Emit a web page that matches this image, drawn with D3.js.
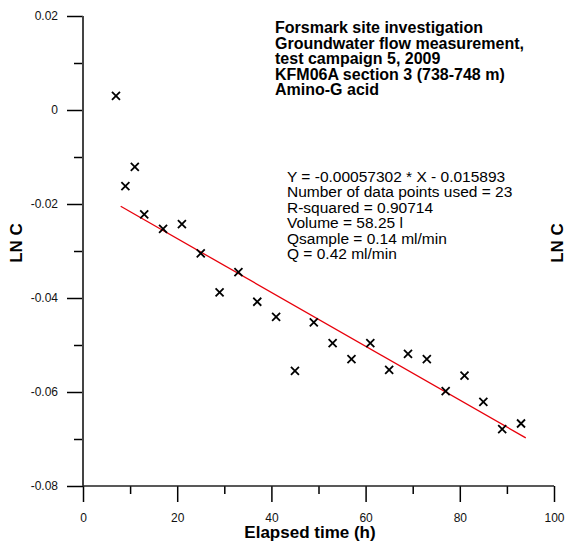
<!DOCTYPE html>
<html>
<head>
<meta charset="utf-8">
<script src="https://cdn.jsdelivr.net/npm/d3@7"></script>
<style>
  body { margin: 0; background: #fff; }
  text { font-family: 'Liberation Sans', Arial, sans-serif; }
</style>
</head>
<body>
<script>
var width = 566
var height = 549

// elapsed time (h) and LN C
var timeH = [7, 9, 11, 13, 17, 21, 25, 29, 33, 37, 41, 45, 49, 53, 57, 61, 65, 69, 73, 77, 81, 85, 89, 93]
var lnC = [0.0030, -0.0162, -0.0121, -0.0222, -0.0253, -0.0243, -0.0305, -0.0388, -0.0345, -0.0408, -0.0440, -0.0555,
  -0.0452, -0.0496, -0.0530, -0.0496, -0.0553, -0.0519, -0.0530, -0.0598, -0.0565, -0.0621, -0.0679, -0.0667]

// regression line
var slope = -0.00057302
var intercept = -0.015893
var fitRange = [8, 94]

var xTicks = [0, 20, 40, 60, 80, 100]
var yTicks = [0.02, 0, -0.02, -0.04, -0.06, -0.08]
var yTickLabels = ['0.02', '0', '-0.02', '-0.04', '-0.06', '-0.08']

var titleLines = ['Forsmark site investigation', 'Groundwater flow measurement,', 'test campaign 5, 2009',
  'KFM06A section 3 (738-748 m)', 'Amino-G acid']
var statLines = ['Y = -0.00057302 * X - 0.015893', 'Number of data points used = 23', 'R-squared = 0.90714',
  'Volume = 58.25 l', 'Qsample = 0.14 ml/min', 'Q = 0.42 ml/min']

var svg = d3.select('body').append('svg')
  .attr('width', width)
  .attr('height', height)

var x = d3.scaleLinear().domain([0, 100]).range([83, 554])
var y = d3.scaleLinear().domain([-0.08, 0.02]).range([486, 16])

// y axis
var yAxis = svg.append('g').attr('transform', 'translate(' + x(0) + ',0)')
  .call(d3.axisLeft(y).tickValues(yTicks).tickSize(16).tickPadding(9)
    .tickFormat(function (d, i) { return yTickLabels[i] }))
yAxis.select('.domain').remove()
yAxis.selectAll('.tick line').attr('stroke', '#000').attr('stroke-width', 1.5)
yAxis.selectAll('.tick text').style('font-size', '12px').attr('fill', '#111')

svg.append('g').attr('transform', 'translate(' + x(0) + ',0)')
  .call(d3.axisLeft(y).tickValues([0.01, -0.01, -0.03, -0.05, -0.07]).tickSize(9).tickFormat(''))
  .call(function (g) { g.select('.domain').remove() })
  .selectAll('.tick line').attr('stroke', '#000').attr('stroke-width', 1.5)

// x axis
var xAxis = svg.append('g').attr('transform', 'translate(0,' + y(-0.08) + ')')
  .call(d3.axisBottom(x).tickValues(xTicks).tickSize(16).tickPadding(11))
xAxis.select('.domain').remove()
xAxis.selectAll('.tick line').attr('stroke', '#000').attr('stroke-width', 1.5)
xAxis.selectAll('.tick text').style('font-size', '12px').attr('fill', '#111')

svg.append('g').attr('transform', 'translate(0,' + y(-0.08) + ')')
  .call(d3.axisBottom(x).tickValues([10, 30, 50, 70, 90]).tickSize(8).tickFormat(''))
  .call(function (g) { g.select('.domain').remove() })
  .selectAll('.tick line').attr('stroke', '#000').attr('stroke-width', 1.5)

// axis lines
svg.append('line')
  .attr('x1', x(0)).attr('x2', x(0)).attr('y1', y(0.02)).attr('y2', y(-0.08))
  .attr('stroke', '#444').attr('stroke-width', 2)
svg.append('line')
  .attr('x1', x(0)).attr('x2', x(100)).attr('y1', y(-0.08)).attr('y2', y(-0.08))
  .attr('stroke', '#222').attr('stroke-width', 1.5)

// axis titles
svg.append('text')
  .attr('transform', 'translate(22,243) rotate(-90)')
  .attr('text-anchor', 'middle')
  .style('font-size', '17px').style('font-weight', 'bold')
  .text('LN C')
svg.append('text')
  .attr('transform', 'translate(563,243) rotate(-90)')
  .attr('text-anchor', 'middle')
  .style('font-size', '17px').style('font-weight', 'bold')
  .text('LN C')
svg.append('text')
  .attr('x', 310).attr('y', 538)
  .attr('text-anchor', 'middle')
  .style('font-size', '17px').style('font-weight', 'bold')
  .text('Elapsed time (h)')

// regression line
svg.append('line')
  .attr('x1', x(fitRange[0])).attr('y1', y(slope * fitRange[0] + intercept))
  .attr('x2', x(fitRange[1])).attr('y2', y(slope * fitRange[1] + intercept))
  .attr('stroke', '#e8000b').attr('stroke-width', 1.3)

// data points as crosses
svg.selectAll('.pt')
  .data(timeH.map(function (t, i) { return [t, lnC[i]] }))
  .enter().append('path')
  .attr('class', 'pt')
  .attr('transform', function (d) { return 'translate(' + x(d[0]) + ',' + y(d[1]) + ')' })
  .attr('d', 'M-4,-4L4,4M-4,4L4,-4')
  .attr('stroke', '#000')
  .attr('stroke-width', 1.8)

// title block
svg.append('text')
  .attr('x', 275).attr('y', 33)
  .style('font-size', '16px').style('font-weight', 'bold')
  .selectAll('tspan').data(titleLines).enter().append('tspan')
  .attr('x', 275).attr('dy', function (d, i) { return i === 0 ? 0 : 15.6 })
  .text(function (d) { return d })

// stats block
svg.append('text')
  .attr('x', 287).attr('y', 182)
  .style('font-size', '15.5px')
  .selectAll('tspan').data(statLines).enter().append('tspan')
  .attr('x', 287).attr('dy', function (d, i) { return i === 0 ? 0 : 15.4 })
  .text(function (d) { return d })
</script>
</body>
</html>
